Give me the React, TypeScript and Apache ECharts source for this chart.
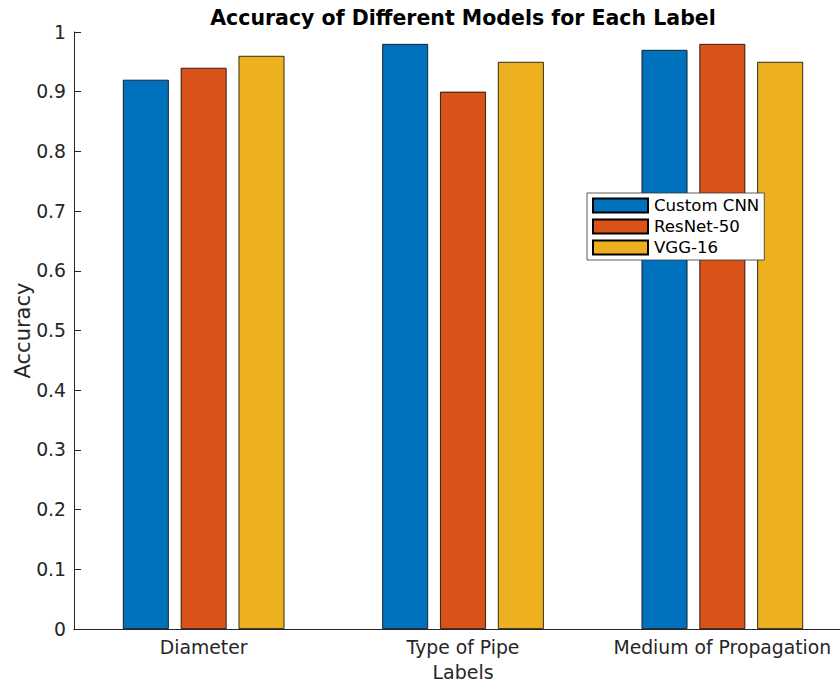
import React, { useEffect, useRef } from "react";
import * as echarts from "echarts";

const categories = ["Diameter", "Type of Pipe", "Medium of Propagation"];
const customCNN = [0.92, 0.98, 0.97];
const resNet50 = [0.94, 0.9, 0.98];
const vgg16 = [0.96, 0.95, 0.95];
const seriesNames = ["Custom CNN", "ResNet-50", "VGG-16"];
const colors = ["#0072BD", "#D95319", "#EDB120"];

const FONT = "DejaVu Sans";
const AXIS = "#262626";

export default function App() {
  const ref = useRef<HTMLDivElement>(null);
  useEffect(() => {
    if (!ref.current) return;
    document.body.style.margin = "0";
    document.body.style.overflow = "hidden";
    const chart = echarts.init(ref.current, null, { renderer: "svg" });
    const gridLeft = 74;
    const gridTop = 32;
    const gridWidth = 778;
    const gridHeight = 597;
    const mkBar = (name: string, data: number[], color: string) => ({
      name,
      type: "bar",
      data,
      barWidth: "17.7%",
      barGap: "26%",
      itemStyle: { color, borderColor: "#000", borderWidth: 0.8 },
      z: 2,
    });
    chart.setOption({
      animation: false,
      backgroundColor: "#fff",
      textStyle: { fontFamily: FONT },
      graphic: [
        {
          type: "text",
          x: gridLeft + gridWidth / 2,
          y: 18,
          style: {
            text: "Accuracy of Different Models for Each Label",
            font: `bold 20.5px "${FONT}"`,
            fill: "#000",
            textAlign: "center",
            textVerticalAlign: "middle",
          },
        },
      ],
      grid: {
        left: gridLeft,
        top: gridTop,
        width: gridWidth,
        height: gridHeight,
        containLabel: false,
        outerBoundsMode: "none",
      },
      legend: {
        orient: "vertical",
        left: 587,
        top: 193,
        data: seriesNames,
        itemWidth: 55,
        itemHeight: 14,
        itemGap: 4,
        padding: [4, 5, 4, 5],
        backgroundColor: "#fff",
        borderColor: "#333",
        borderWidth: 0.8,
        borderRadius: 0,
        icon: "rect",
        textStyle: { fontFamily: FONT, fontSize: 16.6, color: "#000", padding: [0, 0, 0, 1] },
      },
      xAxis: [
        {
          type: "category",
          data: categories,
          position: "bottom",
          name: "Labels",
          nameLocation: "middle",
          nameGap: 33.5,
          nameMoveOverlap: false,
          nameTextStyle: { fontFamily: FONT, fontSize: 19, lineHeight: 18, color: AXIS },
          axisLine: { lineStyle: { color: AXIS, width: 1 } },
          axisTick: { inside: true, length: 7, alignWithLabel: true, lineStyle: { color: AXIS } },
          axisLabel: { fontFamily: FONT, fontSize: 18.8, color: AXIS, margin: 9, interval: 0, hideOverlap: false },
          z: 5,
        },
        {
          type: "category",
          data: categories,
          position: "top",
          axisLine: { lineStyle: { color: AXIS, width: 1 } },
          axisTick: { inside: true, length: 7, alignWithLabel: true, lineStyle: { color: AXIS } },
          axisLabel: { show: false },
          z: 5,
        },
      ],
      yAxis: [
        {
          type: "value",
          min: 0,
          max: 1,
          interval: 0.1,
          position: "left",
          name: "Accuracy",
          nameLocation: "middle",
          nameGap: 41,
          nameMoveOverlap: false,
          nameTextStyle: { fontFamily: FONT, fontSize: 21, color: AXIS },
          axisLine: { show: true, lineStyle: { color: AXIS, width: 1 } },
          axisTick: { show: true, inside: true, length: 7, lineStyle: { color: AXIS } },
          axisLabel: { fontFamily: FONT, fontSize: 18.8, color: AXIS, margin: 8 },
          splitLine: { show: false },
          z: 5,
        },
        {
          type: "value",
          min: 0,
          max: 1,
          interval: 0.1,
          position: "right",
          axisLine: { show: true, lineStyle: { color: AXIS, width: 1 } },
          axisTick: { show: true, inside: true, length: 7, lineStyle: { color: AXIS } },
          axisLabel: { show: false },
          splitLine: { show: false },
          z: 5,
        },
      ],
      series: [
        mkBar(seriesNames[0], customCNN, colors[0]),
        mkBar(seriesNames[1], resNet50, colors[1]),
        mkBar(seriesNames[2], vgg16, colors[2]),
      ],
    });
    return () => chart.dispose();
  }, []);
  return (
    <div style={{ position: "fixed", left: 0, top: 0, width: 840, height: 683, overflow: "hidden", background: "#fff" }}>
      <div ref={ref} style={{ width: 860, height: 683 }} />
    </div>
  );
}
